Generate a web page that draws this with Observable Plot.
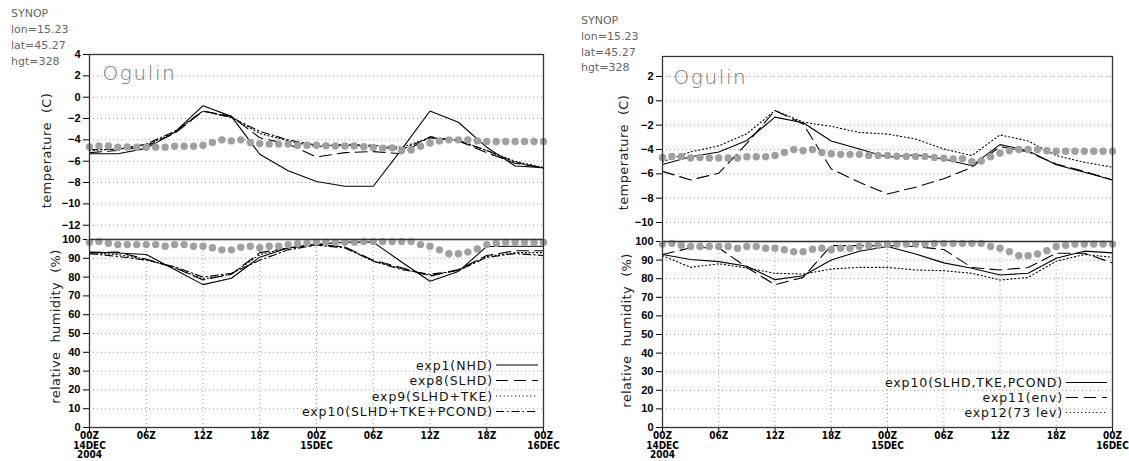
<!DOCTYPE html>
<html><head><meta charset="utf-8">
<script src="https://cdn.jsdelivr.net/npm/d3@7"></script>
<script src="https://cdn.jsdelivr.net/npm/@observablehq/plot@0.6"></script>
<style>
body{margin:0;background:#fff;}
#wrap{position:relative;width:1129px;height:461px;overflow:hidden;background:#fff;}
#wrap > svg{position:absolute;left:0;top:0;}
.hdr{position:absolute;font:11px "DejaVu Sans",sans-serif;color:#666;line-height:15.9px;white-space:pre;}
</style></head><body><div id="wrap"></div><script>
// ---------------- data ----------------
const modelHours = [0,3,6,9,12,15,18,21,24,27,30,33,36,39,42,45,48];
const obsHours = [0,1,2,3,4,5,6,7,8,9,10,11,12,13,14,15,16,17,18,19,20,21,22,23,24,25,26,27,28,29,30,31,32,33,34,35,36,37,38,39,40,41,42,43,44,45,46,47,48];
const obsTemp = [-4.66,-4.57,-4.57,-4.7,-4.66,-4.7,-4.7,-4.7,-4.7,-4.6,-4.6,-4.6,-4.5,-4.25,-4.0,-4.1,-4.0,-4.25,-4.35,-4.4,-4.4,-4.4,-4.5,-4.5,-4.5,-4.55,-4.57,-4.57,-4.57,-4.65,-4.72,-4.78,-4.75,-5.0,-4.95,-4.6,-4.3,-4.1,-4.0,-4.0,-4.0,-4.1,-4.15,-4.15,-4.15,-4.15,-4.15,-4.15,-4.15];
const obsRH = [98.6,99,98,97.3,97.3,97.3,97.3,97.3,96.4,97.3,97.3,96.4,96.4,95.6,94.5,94.5,95.9,96.4,95.6,96.4,96.4,97.3,97.7,98,98.6,98.6,98.6,98.6,98.6,99,99,99,99,99,99,97.3,96.4,94.5,92.4,92.4,93.3,95,97.3,98,98.6,98.6,98.6,98.6,98.6];

const leftNames = ["exp1(NHD)","exp8(SLHD)","exp9(SLHD+TKE)","exp10(SLHD+TKE+PCOND)"];
const leftTemp_exp1  = [-5.3,-5.3,-4.8,-3.3,-0.8,-1.8,-5.35,-6.9,-7.9,-8.35,-8.35,-4.9,-1.3,-2.35,-4.7,-6.45,-6.6];
const leftTemp_exp8  = [-5.2,-5.0,-4.6,-3.4,-1.3,-1.8,-3.8,-4.4,-5.6,-5.2,-5.1,-5.3,-3.7,-4.1,-5.2,-6.2,-6.6];
const leftTemp_exp9  = [-5.0,-4.85,-4.5,-3.3,-1.3,-1.9,-3.4,-4.1,-4.65,-4.4,-4.5,-4.7,-3.8,-4.0,-5.0,-6.0,-6.6];
const leftTemp_exp10 = [-4.9,-4.9,-4.4,-3.2,-1.3,-1.9,-3.2,-4.0,-4.5,-4.5,-4.6,-4.9,-3.8,-4.1,-5.0,-6.1,-6.7];
const leftRH_exp1  = [93.3,92.8,92,84,76,79.4,90.6,95.5,97.4,98.6,98.6,88,77.8,83,96.3,96.4,96.4];
const leftRH_exp8  = [93,93.3,89.5,85,78.5,81.5,93,95.5,97.5,96,89,85,80.5,84,91.5,94,94];
const leftRH_exp9  = [93,92,89.5,85,79,81.5,92,95.5,97,96,88.5,84.5,81,83.5,91,93,93];
const leftRH_exp10 = [92.5,91,89,85.5,80,82,89,94.5,97,95.5,88.5,84,81.5,83.5,90.5,92.5,91.5];

const rightNames = ["exp10(SLHD,TKE,PCOND)","exp11(env)","exp12(73 lev)"];
const rightTemp_exp10 = [-5.23,-4.6,-4.2,-3.26,-1.34,-1.8,-3.3,-3.96,-4.64,-4.43,-4.78,-5.33,-3.6,-4.1,-5.25,-5.87,-6.5];
const rightTemp_exp11 = [-5.8,-6.5,-5.95,-3.5,-0.8,-1.9,-5.6,-6.7,-7.65,-7.1,-6.4,-5.46,-3.77,-4.2,-5.2,-5.8,-6.5];
const rightTemp_exp12 = [-5.0,-4.2,-3.7,-2.7,-0.8,-1.75,-2.1,-2.6,-2.73,-3.14,-3.96,-4.5,-2.8,-3.3,-4.5,-5.05,-5.46];
const rightRH_exp10 = [93,90.3,89.2,86.7,79.5,81.6,90,94.8,97.3,93.3,88.5,85.6,82,82.9,91,94.8,93.9];
const rightRH_exp11 = [93,96.6,96.6,86,76.8,80.7,97.8,97.8,97.8,97.3,95.7,86,84.7,86,93.7,93.7,88.5];
const rightRH_exp12 = [92.4,86.1,88,85.8,82.9,82.5,85.2,86.1,86.1,84.7,84.3,82.9,79.3,80.7,89.4,93,91.5];

const tempTicksLeft = [4,2,0,-2,-4,-6,-8,-10,-12];
const tempTicksRight = [2,0,-2,-4,-6,-8,-10];
const rhTicks = [0,10,20,30,40,50,60,70,80,90,100];
const xTicks = [0,6,12,18,24,30,36,42,48];
const xTickLabels = ["00Z\n14DEC\n2004","06Z","12Z","18Z","00Z\n15DEC","06Z","12Z","18Z","00Z\n16DEC"];
const headerLines = ["SYNOP","lon=15.23","lat=45.27","hgt=328"];
const stationName = "Ogulin";
const tempLabel = "temperature  (C)";
const rhLabel = "relative  humidity  (%)";

// ---------------- styling / layout ----------------
const W = 1129, H = 461;
const dashLeft = [null,"12,6","1.2,2.6","8,3,1.5,3"];
const dashRight = [null,"12,6","1.2,2.6"];
const tickFont = {fontFamily:"'Liberation Sans', Arial, sans-serif", fontWeight:"bold", fontSize:11};
const xFont = {fontFamily:"'Liberation Sans Narrow','DejaVu Sans Condensed',sans-serif", fontWeight:"bold", fontSize:10};

const wrap = document.getElementById("wrap");

function toRows(arr, hours){ return hours.map((h,i)=>({h, v: arr[i]})); }

function seriesMarks(list, dashes){
  return list.map((arr,i)=>Plot.line(toRows(arr, modelHours), {
    x:"h", y:"v", stroke:"#000", strokeWidth:1.1,
    strokeDasharray: dashes[i] || undefined
  }));
}

function tempPlot(g, series, dashes, yTicks){
  return Plot.plot({
    width: W, height: H,
    marginLeft: g.x0, marginRight: W - g.x1, marginTop: g.top, marginBottom: H - g.mid,
    style:{background:"transparent", overflow:"visible"},
    x:{domain:[0,48], axis:null},
    y:{domain:g.tDomain, axis:null},
    marks:[
      Plot.gridY(yTicks, {stroke:"#9a9a9a", strokeOpacity:1, strokeDasharray:"1,3"}),
      Plot.axisY(yTicks, {tickSize:6, tickPadding:3, ...tickFont, label:null}),
      ...seriesMarks(series, dashes),
      Plot.dot(toRows(obsTemp, obsHours), {x:"h", y:"v", r:3.7, fill:"#a0a0a0", stroke:"none"}),
      Plot.frame({stroke:"#333", strokeWidth:1.3}),
      Plot.text([stationName], {frameAnchor:"top-left", dx:g.ogDx, dy:g.ogDy, textAnchor:"start", lineAnchor:"middle",
        fontSize:20, fill:"#777", fontFamily:"'DejaVu Sans',sans-serif", fontWeight:300}),
      Plot.text([tempLabel], {frameAnchor:"left", rotate:-90, dx:g.tLabDx, dy:g.tLabDy, textAnchor:"middle", lineAnchor:"middle",
        fontSize:13, fill:"#222", fontFamily:"'DejaVu Sans',sans-serif"})
    ]
  });
}

function rhPlot(g, series, dashes){
  return Plot.plot({
    width: W, height: H,
    marginLeft: g.x0, marginRight: W - g.x1, marginTop: g.mid, marginBottom: H - g.bottom,
    style:{background:"transparent", overflow:"visible"},
    x:{domain:[0,48], axis:null},
    y:{domain:[0,100], axis:null},
    marks:[
      Plot.gridY(rhTicks, {stroke:"#9a9a9a", strokeOpacity:1, strokeDasharray:"1,3"}),
      Plot.gridX(xTicks, {stroke:"#9a9a9a", strokeOpacity:1, strokeDasharray:"1,3"}),
      Plot.axisY(rhTicks, {tickSize:6, tickPadding:3, ...tickFont, label:null}),
      Plot.axisX(xTicks, {tickSize:4, tickPadding:1, ...xFont, lineHeight:0.94, label:null,
        tickFormat:(d)=>xTickLabels[xTicks.indexOf(d)]}),
      ...seriesMarks(series, dashes),
      Plot.dot(toRows(obsRH, obsHours), {x:"h", y:"v", r:3.7, fill:"#a0a0a0", stroke:"none"}),
      Plot.frame({stroke:"#333", strokeWidth:1.3}),
      Plot.text([rhLabel], {frameAnchor:"left", rotate:-90, dx:g.rLabDx, dy:g.rLabDy, textAnchor:"middle", lineAnchor:"middle",
        fontSize:13, fill:"#222", fontFamily:"'DejaVu Sans',sans-serif"})
    ]
  });
}

const GL = {x0:89, x1:543, top:54, mid:239, bottom:427, tDomain:[-13.34,4],
  ogDx:13, ogDy:19, tLabDx:-42.5, tLabDy:3.5, rLabDx:-34, rLabDy:-7,
  hdrX:11, hdrY:6, legX:493, legY:[365,380.5,396,411.5], legLine:[496,538]};
const GR = {x0:662, x1:1112, top:56, mid:241, bottom:427, tDomain:[-11.56,3.64],
  ogDx:11, ogDy:21, tLabDx:-39, tLabDy:3.5, rLabDx:-36, rLabDy:-4,
  hdrX:581, hdrY:12.7, legX:1063, legY:[382.5,397.5,412.5], legLine:[1066,1107]};

const plots = [
  tempPlot(GL, [leftTemp_exp1,leftTemp_exp8,leftTemp_exp9,leftTemp_exp10], dashLeft, tempTicksLeft),
  rhPlot(GL, [leftRH_exp1,leftRH_exp8,leftRH_exp9,leftRH_exp10], dashLeft),
  tempPlot(GR, [rightTemp_exp10,rightTemp_exp11,rightTemp_exp12], dashRight, tempTicksRight),
  rhPlot(GR, [rightRH_exp10,rightRH_exp11,rightRH_exp12], dashRight)
];
plots.forEach(p=>{
  wrap.appendChild(p);
  d3.select(p).selectAll("text").filter(function(){return this.textContent===stationName;})
    .style("letter-spacing","1.6px");
  d3.select(p).selectAll("text").filter(function(){return this.textContent===tempLabel||this.textContent===rhLabel;})
    .style("letter-spacing","0.4px");
});

// headers
[GL,GR].forEach(g=>{
  const d = document.createElement("div");
  d.className="hdr"; d.style.left=g.hdrX+"px"; d.style.top=g.hdrY+"px";
  d.textContent = headerLines.join("\n");
  wrap.appendChild(d);
});

// legends
function legend(g, names, dashes){
  const svg = d3.create("svg").attr("width",W).attr("height",H);
  names.forEach((n,i)=>{
    svg.append("text").attr("x",g.legX).attr("y",g.legY[i]).attr("dy","0.36em")
      .attr("text-anchor","end").attr("font-family","DejaVu Sans, sans-serif")
      .attr("font-size",12.5).attr("letter-spacing","0.9px").attr("fill","#111").text(n);
    const ln = svg.append("line").attr("x1",g.legLine[0]).attr("x2",g.legLine[1])
      .attr("y1",g.legY[i]).attr("y2",g.legY[i]).attr("stroke","#000").attr("stroke-width",1.2);
    if (dashes[i]) ln.attr("stroke-dasharray",dashes[i]);
  });
  wrap.appendChild(svg.node());
}
legend(GL, leftNames, dashLeft);
legend(GR, rightNames, dashRight);
</script></body></html>
